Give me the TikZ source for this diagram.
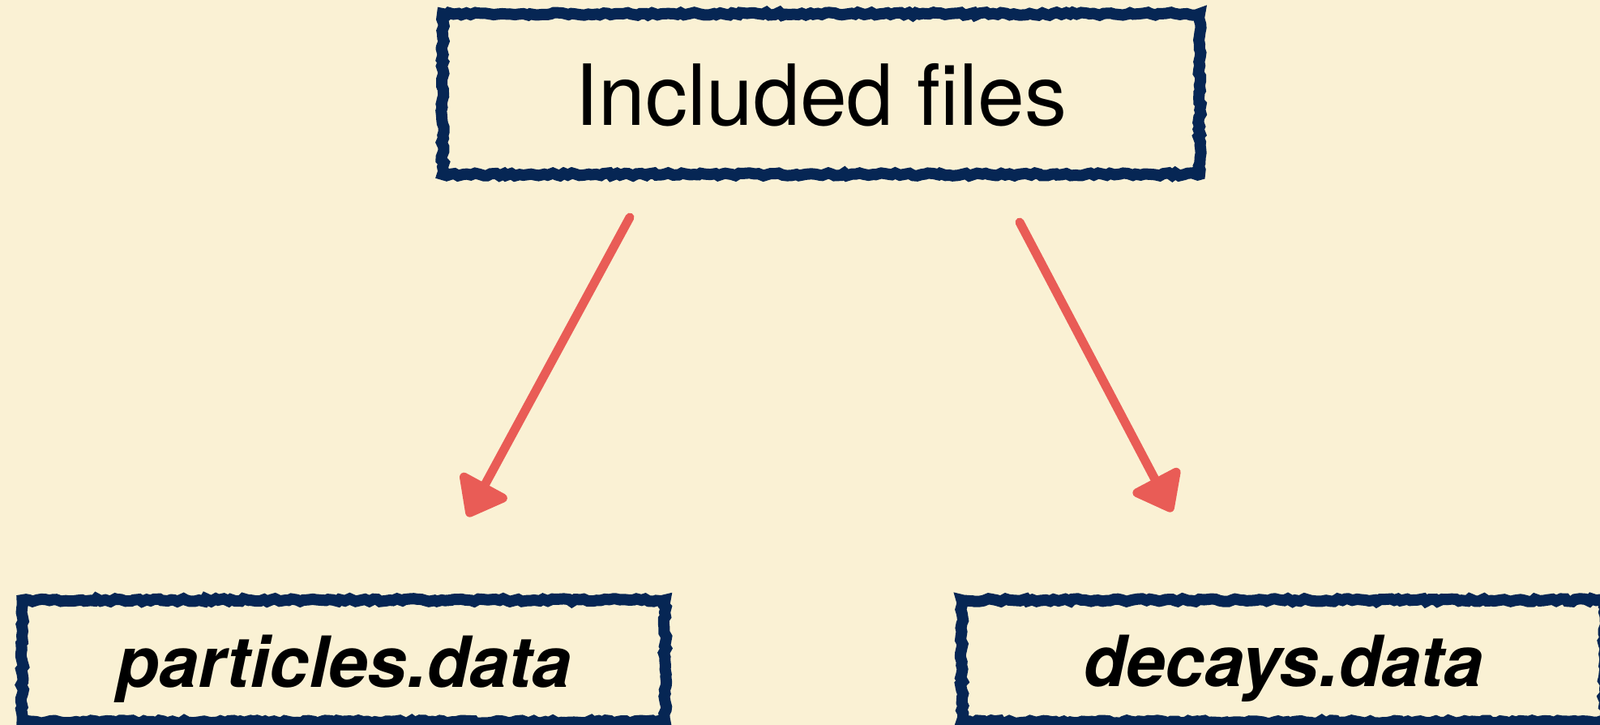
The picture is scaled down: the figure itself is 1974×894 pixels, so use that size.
\documentclass[tikz,border=0pt]{standalone}
\usepackage{fontspec}
\setmainfont{TeX Gyre Heros}
\usetikzlibrary{arrows.meta,decorations.pathmorphing}
\definecolor{paper}{RGB}{250,241,212}
\definecolor{navy}{RGB}{6,38,84}
\definecolor{chalk}{RGB}{233,92,86}
\tikzset{
  roughbox/.style={draw=navy, line width=14pt, inner sep=0pt, text depth=0pt,
    decorate, decoration={random steps, segment length=5pt, amplitude=1.8pt}},
  toplabel/.style={font=\fontsize{104}{120}\selectfont},
  filelabel/.style={font=\fontsize{87}{100}\selectfont\bfseries\itshape},
  chalkarrow/.style={draw=chalk, line width=11pt, line cap=round,
    -{Triangle[length=50pt,width=74pt,round]}}
}
\begin{document}
\begin{tikzpicture}[x=1pt,y=-1pt]
\useasboundingbox (0,0) rectangle (1974,894);
\fill[paper] (0,0) rectangle (1974,894);
\node[roughbox, toplabel, minimum width=934pt, minimum height=198pt] (inc) at (1013,116) {Included files};
\node[roughbox, filelabel, minimum width=793pt, minimum height=150pt] (part) at (424,815) {particles.data};
\node[roughbox, filelabel, minimum width=793pt, minimum height=150pt] (dec) at (1583,815) {decays.data};
\coordinate (l1) at (777,268);
\coordinate (l2) at (577,637);
\coordinate (r1) at (1258,274);
\coordinate (r2) at (1446,631);
\draw[chalkarrow] (l1) -- (l2);
\draw[chalkarrow] (r1) -- (r2);
\end{tikzpicture}
\end{document}
